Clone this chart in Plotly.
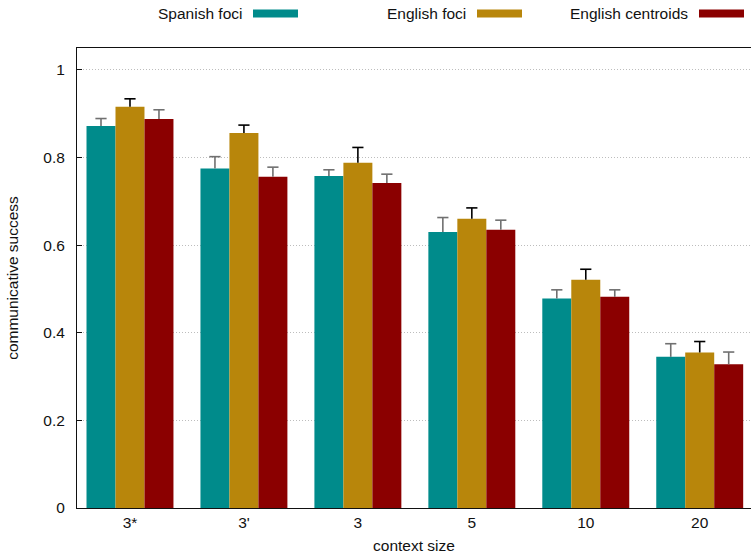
import plotly.graph_objects as go

categories = ["3*", "3'", "3", "5", "10", "20"]
series_names = ["Spanish foci", "English foci", "English centroids"]
spanish_foci = [0.872, 0.775, 0.758, 0.630, 0.478, 0.345]
spanish_err = [0.017, 0.027, 0.014, 0.033, 0.020, 0.030]
english_foci = [0.916, 0.856, 0.788, 0.660, 0.521, 0.355]
english_err = [0.018, 0.018, 0.035, 0.025, 0.024, 0.025]
english_centroids = [0.888, 0.756, 0.742, 0.635, 0.482, 0.328]
centroids_err = [0.021, 0.022, 0.020, 0.022, 0.016, 0.028]

colors = ["#008B8B", "#B8860B", "#8B0000"]
err_colors = ["#707070", "#000000", "#707070"]

W, H = 751, 556
ML, MR, MT, MB = 77, 0, 48, 48
PW, PH = W - ML - MR, H - MT - MB
FS = 15.5
GAP = 0.237

fig = go.Figure()
for i, (name, vals, errs, c, ec) in enumerate(zip(series_names,
                                   [spanish_foci, english_foci, english_centroids],
                                   [spanish_err, english_err, centroids_err],
                                   colors, err_colors)):
    fig.add_trace(go.Bar(
        x=categories, y=vals, name=name, offsetgroup=str(i), alignmentgroup="a",
        marker=dict(color=c, line=dict(width=0)),
        error_y=dict(type="data", array=errs, arrayminus=[0] * len(errs),
                     symmetric=False, color=ec, thickness=1.6, width=0),
        showlegend=False,
    ))
for i, (vals, errs, ec) in enumerate(zip([spanish_foci, english_foci, english_centroids],
                                         [spanish_err, english_err, centroids_err],
                                         err_colors)):
    fig.add_trace(go.Scatter(
        x=categories, y=[v + e for v, e in zip(vals, errs)],
        offsetgroup=str(i), alignmentgroup="a", mode="markers",
        marker=dict(symbol="line-ew", size=8, line=dict(color=ec, width=1.6)),
        showlegend=False, hoverinfo="skip",
    ))

# legend drawn gnuplot-style (label, then swatch on the right); positions in window pixels
def px_x(p):
    return (p - ML) / PW

def px_y(p):
    return (H - MB - p) / PH

legend_swatches = [253, 477, 699]
shapes = []
annotations = []
for name, c, sx in zip(series_names, colors, legend_swatches):
    shapes.append(dict(type="rect", xref="paper", yref="paper",
                       x0=px_x(sx), x1=px_x(sx + 45), y0=px_y(17.5), y1=px_y(9.5),
                       fillcolor=c, line=dict(width=0)))
    annotations.append(dict(text=name, xref="paper", yref="paper",
                            x=px_x(sx - 9), y=px_y(14), xanchor="right", yanchor="middle",
                            showarrow=False, font=dict(size=FS, color="#111")))

fig.update_layout(
    width=W, height=H,
    margin=dict(l=ML, r=MR, t=MT, b=MB, pad=0),
    paper_bgcolor="white", plot_bgcolor="white",
    barmode="group", bargap=GAP, bargroupgap=0,
    scattermode="group", scattergap=GAP,
    font=dict(family="Liberation Sans, Arial, sans-serif", size=FS, color="#111"),
    shapes=shapes, annotations=annotations,
    xaxis=dict(range=[-0.465, 5.45], showline=True, mirror=True, linecolor="#111",
               linewidth=1, ticks="", showgrid=False, zeroline=False, automargin=False,
               title=dict(text="context size", standoff=10, font=dict(size=FS))),
    yaxis=dict(range=[0, 1.05], tickvals=[0, 0.2, 0.4, 0.6, 0.8, 1],
               ticktext=["0", "0.2", "0.4", "0.6", "0.8", "1"],
               showline=True, linecolor="#111", linewidth=1,
               ticks="inside", ticklen=5, tickcolor="#111", automargin=False,
               ticklabelstandoff=8,
               showgrid=True, gridcolor="#bdbdbd", griddash="1px,2px", gridwidth=1,
               zeroline=False,
               title=dict(text="communicative success", standoff=20, font=dict(size=FS))),
)

# remove the browser's default 8px body margin so the figure fills the window exactly
fig.write_html("out.html", config={"displayModeBar": False},
               post_script="document.body.style.margin='0px';document.body.style.overflow='hidden';")
